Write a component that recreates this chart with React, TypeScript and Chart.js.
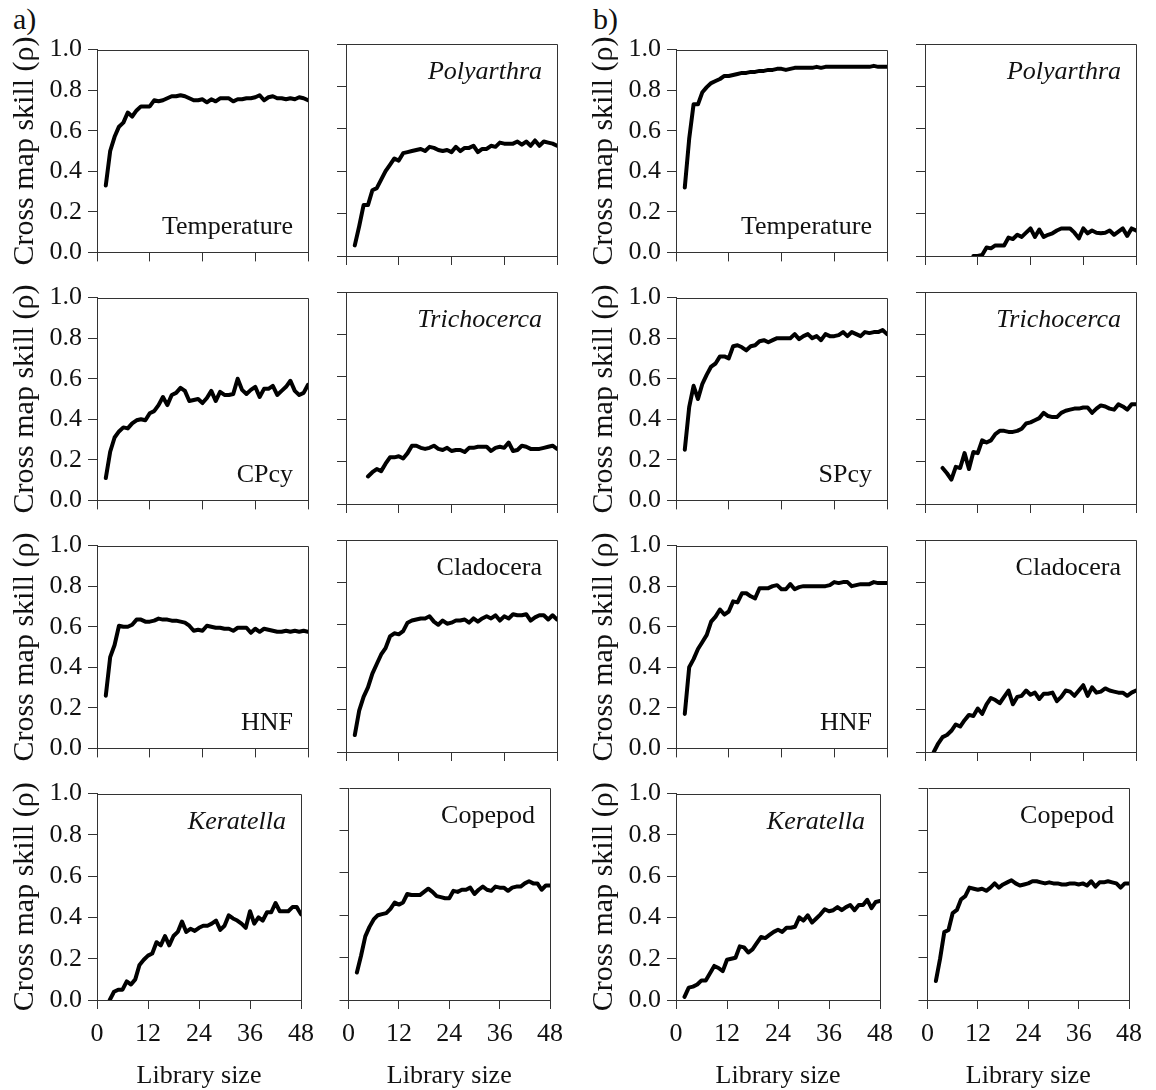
import React, { useEffect, useRef } from 'react';
import { Chart, registerables } from 'chart.js';

Chart.register(...registerables);

// ---------- data ----------
const LIBRARY_SIZE = [2, 3, 4, 5, 6, 7, 8, 9, 10, 11, 12, 13, 14, 15, 16, 17, 18, 19, 20, 21, 22, 23, 24, 25, 26, 27, 28, 29, 30, 31, 32, 33, 34, 35, 36, 37, 38, 39, 40, 41, 42, 43, 44, 45, 46, 47, 48];
const X_TICKS = [0, 12, 24, 36, 48];
const Y_TICKS = [0, 0.2, 0.4, 0.6, 0.8, 1.0];

const A_TEMPERATURE = [0.33, 0.5, 0.57, 0.62, 0.64, 0.69, 0.67, 0.7, 0.72, 0.72, 0.72, 0.75, 0.745, 0.75, 0.76, 0.77, 0.77, 0.775, 0.77, 0.76, 0.75, 0.75, 0.755, 0.74, 0.755, 0.745, 0.76, 0.76, 0.76, 0.745, 0.755, 0.755, 0.76, 0.76, 0.765, 0.775, 0.75, 0.765, 0.77, 0.76, 0.76, 0.755, 0.76, 0.755, 0.765, 0.76, 0.75];
const A_POLYARTHRA = [0.05, 0.14, 0.24, 0.24, 0.31, 0.32, 0.36, 0.4, 0.43, 0.46, 0.45, 0.485, 0.49, 0.495, 0.5, 0.505, 0.495, 0.515, 0.51, 0.5, 0.495, 0.5, 0.49, 0.515, 0.495, 0.51, 0.51, 0.52, 0.49, 0.505, 0.505, 0.52, 0.515, 0.535, 0.53, 0.53, 0.53, 0.54, 0.525, 0.54, 0.52, 0.545, 0.52, 0.54, 0.535, 0.53, 0.52];
const B_TEMPERATURE = [0.32, 0.56, 0.73, 0.73, 0.79, 0.815, 0.835, 0.845, 0.855, 0.87, 0.87, 0.875, 0.88, 0.885, 0.885, 0.89, 0.89, 0.895, 0.895, 0.9, 0.9, 0.905, 0.905, 0.9, 0.905, 0.91, 0.91, 0.91, 0.91, 0.91, 0.915, 0.91, 0.915, 0.915, 0.915, 0.915, 0.915, 0.915, 0.915, 0.915, 0.915, 0.915, 0.915, 0.92, 0.915, 0.915, 0.915];
const B_POLYARTHRA = [null, null, null, null, null, null, null, null, null, 0.0, 0.0, 0.005, 0.04, 0.036, 0.05, 0.05, 0.05, 0.087, 0.08, 0.1, 0.09, 0.11, 0.13, 0.09, 0.125, 0.09, 0.1, 0.107, 0.12, 0.13, 0.13, 0.13, 0.11, 0.083, 0.13, 0.107, 0.12, 0.11, 0.107, 0.11, 0.12, 0.1, 0.115, 0.13, 0.095, 0.13, 0.12];

const A_CPCY = [0.11, 0.24, 0.31, 0.34, 0.36, 0.355, 0.38, 0.395, 0.4, 0.395, 0.43, 0.44, 0.47, 0.51, 0.47, 0.52, 0.53, 0.555, 0.54, 0.49, 0.495, 0.5, 0.48, 0.505, 0.54, 0.49, 0.535, 0.52, 0.52, 0.525, 0.6, 0.545, 0.525, 0.545, 0.56, 0.51, 0.55, 0.55, 0.565, 0.52, 0.54, 0.56, 0.59, 0.54, 0.52, 0.53, 0.57];
const A_TRICHOCERCA = [null, null, null, 0.13, 0.15, 0.165, 0.155, 0.19, 0.22, 0.22, 0.225, 0.215, 0.24, 0.275, 0.275, 0.265, 0.26, 0.265, 0.275, 0.26, 0.255, 0.265, 0.25, 0.255, 0.255, 0.245, 0.265, 0.265, 0.27, 0.27, 0.27, 0.25, 0.265, 0.27, 0.265, 0.29, 0.25, 0.255, 0.275, 0.27, 0.26, 0.26, 0.26, 0.265, 0.27, 0.275, 0.26];
const B_SPCY = [0.25, 0.46, 0.565, 0.5, 0.575, 0.62, 0.66, 0.675, 0.71, 0.71, 0.7, 0.76, 0.765, 0.755, 0.74, 0.76, 0.765, 0.785, 0.79, 0.78, 0.79, 0.8, 0.8, 0.8, 0.8, 0.82, 0.795, 0.81, 0.82, 0.8, 0.81, 0.79, 0.82, 0.81, 0.81, 0.815, 0.83, 0.81, 0.83, 0.82, 0.81, 0.83, 0.825, 0.83, 0.83, 0.84, 0.82];
const B_TRICHOCERCA = [null, null, 0.17, 0.145, 0.115, 0.175, 0.17, 0.24, 0.165, 0.245, 0.24, 0.3, 0.29, 0.3, 0.33, 0.345, 0.345, 0.34, 0.34, 0.345, 0.355, 0.38, 0.385, 0.395, 0.405, 0.43, 0.415, 0.41, 0.41, 0.43, 0.44, 0.445, 0.45, 0.45, 0.455, 0.455, 0.43, 0.45, 0.465, 0.46, 0.45, 0.445, 0.47, 0.46, 0.445, 0.47, 0.47];

const A_HNF = [0.26, 0.45, 0.51, 0.605, 0.6, 0.6, 0.61, 0.635, 0.635, 0.625, 0.625, 0.63, 0.64, 0.635, 0.635, 0.63, 0.63, 0.625, 0.62, 0.605, 0.58, 0.585, 0.58, 0.605, 0.6, 0.595, 0.595, 0.59, 0.59, 0.58, 0.595, 0.595, 0.595, 0.57, 0.59, 0.575, 0.59, 0.585, 0.58, 0.575, 0.575, 0.58, 0.575, 0.58, 0.575, 0.58, 0.575];
const A_CLADOCERA = [0.08, 0.195, 0.26, 0.305, 0.37, 0.415, 0.46, 0.49, 0.545, 0.56, 0.555, 0.57, 0.61, 0.62, 0.625, 0.63, 0.63, 0.64, 0.615, 0.6, 0.62, 0.605, 0.61, 0.62, 0.62, 0.625, 0.61, 0.63, 0.615, 0.63, 0.64, 0.63, 0.645, 0.62, 0.64, 0.63, 0.65, 0.645, 0.645, 0.65, 0.62, 0.635, 0.645, 0.645, 0.625, 0.645, 0.625];
const B_HNF = [0.17, 0.4, 0.44, 0.49, 0.525, 0.56, 0.625, 0.65, 0.685, 0.66, 0.675, 0.725, 0.72, 0.765, 0.765, 0.75, 0.74, 0.79, 0.79, 0.79, 0.8, 0.805, 0.785, 0.785, 0.81, 0.785, 0.795, 0.8, 0.8, 0.8, 0.8, 0.8, 0.8, 0.805, 0.82, 0.815, 0.82, 0.82, 0.8, 0.805, 0.81, 0.81, 0.81, 0.82, 0.815, 0.815, 0.815];
const B_CLADOCERA = [0.0, 0.04, 0.07, 0.08, 0.1, 0.13, 0.12, 0.15, 0.175, 0.17, 0.205, 0.18, 0.225, 0.255, 0.245, 0.23, 0.26, 0.29, 0.225, 0.26, 0.265, 0.29, 0.27, 0.28, 0.25, 0.275, 0.275, 0.28, 0.24, 0.26, 0.29, 0.285, 0.265, 0.29, 0.315, 0.265, 0.305, 0.28, 0.285, 0.3, 0.29, 0.285, 0.28, 0.28, 0.265, 0.28, 0.29];

const A_KERATELLA = [null, 0.0, 0.04, 0.05, 0.05, 0.09, 0.075, 0.1, 0.17, 0.195, 0.215, 0.225, 0.28, 0.265, 0.31, 0.265, 0.31, 0.33, 0.38, 0.33, 0.345, 0.335, 0.35, 0.36, 0.36, 0.37, 0.385, 0.34, 0.36, 0.41, 0.395, 0.385, 0.37, 0.35, 0.43, 0.37, 0.4, 0.385, 0.425, 0.425, 0.47, 0.43, 0.43, 0.43, 0.45, 0.45, 0.415];
const A_COPEPOD = [0.13, 0.21, 0.3, 0.345, 0.38, 0.4, 0.405, 0.41, 0.43, 0.46, 0.45, 0.46, 0.5, 0.495, 0.495, 0.495, 0.51, 0.525, 0.51, 0.49, 0.485, 0.48, 0.48, 0.515, 0.51, 0.52, 0.52, 0.53, 0.5, 0.52, 0.535, 0.52, 0.515, 0.535, 0.53, 0.53, 0.515, 0.53, 0.535, 0.535, 0.55, 0.56, 0.55, 0.55, 0.52, 0.54, 0.54];
const B_KERATELLA = [0.015, 0.06, 0.065, 0.075, 0.095, 0.095, 0.13, 0.165, 0.155, 0.14, 0.195, 0.2, 0.205, 0.26, 0.255, 0.23, 0.245, 0.275, 0.305, 0.3, 0.315, 0.33, 0.34, 0.33, 0.35, 0.35, 0.355, 0.4, 0.385, 0.41, 0.375, 0.395, 0.415, 0.44, 0.43, 0.435, 0.45, 0.435, 0.45, 0.46, 0.435, 0.46, 0.46, 0.485, 0.445, 0.475, 0.48];
const B_COPEPOD = [0.09, 0.195, 0.32, 0.33, 0.41, 0.425, 0.475, 0.49, 0.53, 0.525, 0.52, 0.525, 0.515, 0.53, 0.55, 0.53, 0.545, 0.555, 0.565, 0.55, 0.54, 0.545, 0.55, 0.56, 0.56, 0.555, 0.55, 0.555, 0.55, 0.55, 0.545, 0.545, 0.55, 0.55, 0.545, 0.55, 0.54, 0.56, 0.535, 0.555, 0.555, 0.56, 0.555, 0.55, 0.53, 0.55, 0.55];

// ---------- layout & style ----------
const SERIF = "'Liberation Serif', 'Times New Roman', Times, serif";
const AXIS_COLOR = '#333333';
const TEXT_COLOR = '#111111';
const COL_LEFT = [97, 346, 676, 925];
const ROW_TOP = [44, 292, 540, 788];
const PLOT_W = 211;
const PLOT_H = 212;
const PAD_T = 16;
const PAD_R = 16;

Chart.defaults.font.family = SERIF;
Chart.defaults.color = TEXT_COLOR;

type PanelDef = { key: string; col: number; row: number; values: (number | null)[]; label: string; italic: boolean; pos: 'top' | 'bottom' };

const PANELS: PanelDef[] = [
  { key: 'a-temp', col: 0, row: 0, values: A_TEMPERATURE, label: 'Temperature', italic: false, pos: 'bottom' },
  { key: 'a-poly', col: 1, row: 0, values: A_POLYARTHRA, label: 'Polyarthra', italic: true, pos: 'top' },
  { key: 'b-temp', col: 2, row: 0, values: B_TEMPERATURE, label: 'Temperature', italic: false, pos: 'bottom' },
  { key: 'b-poly', col: 3, row: 0, values: B_POLYARTHRA, label: 'Polyarthra', italic: true, pos: 'top' },
  { key: 'a-cpcy', col: 0, row: 1, values: A_CPCY, label: 'CPcy', italic: false, pos: 'bottom' },
  { key: 'a-tri', col: 1, row: 1, values: A_TRICHOCERCA, label: 'Trichocerca', italic: true, pos: 'top' },
  { key: 'b-spcy', col: 2, row: 1, values: B_SPCY, label: 'SPcy', italic: false, pos: 'bottom' },
  { key: 'b-tri', col: 3, row: 1, values: B_TRICHOCERCA, label: 'Trichocerca', italic: true, pos: 'top' },
  { key: 'a-hnf', col: 0, row: 2, values: A_HNF, label: 'HNF', italic: false, pos: 'bottom' },
  { key: 'a-clad', col: 1, row: 2, values: A_CLADOCERA, label: 'Cladocera', italic: false, pos: 'top' },
  { key: 'b-hnf', col: 2, row: 2, values: B_HNF, label: 'HNF', italic: false, pos: 'bottom' },
  { key: 'b-clad', col: 3, row: 2, values: B_CLADOCERA, label: 'Cladocera', italic: false, pos: 'top' },
  { key: 'a-ker', col: 0, row: 3, values: A_KERATELLA, label: 'Keratella', italic: true, pos: 'top' },
  { key: 'a-cope', col: 1, row: 3, values: A_COPEPOD, label: 'Copepod', italic: false, pos: 'top' },
  { key: 'b-ker', col: 2, row: 3, values: B_KERATELLA, label: 'Keratella', italic: true, pos: 'top' },
  { key: 'b-cope', col: 3, row: 3, values: B_COPEPOD, label: 'Copepod', italic: false, pos: 'top' },
];

const boxPlugin = {
  id: 'panelBox',
  beforeDatasetsDraw(chart: any) {
    const { ctx, chartArea } = chart;
    const l = Math.round(chartArea.left) + 0.5;
    const t = Math.round(chartArea.top) + 0.5;
    const r = Math.round(chartArea.right) + 0.5;
    const b = Math.round(chartArea.bottom) + 0.5;
    ctx.save();
    ctx.strokeStyle = AXIS_COLOR;
    ctx.lineWidth = 1;
    ctx.beginPath();
    ctx.moveTo(l, t);
    ctx.lineTo(r, t);
    ctx.lineTo(r, b);
    ctx.stroke();
    ctx.restore();
  },
};

const labelPlugin = {
  id: 'panelLabel',
  afterDatasetsDraw(chart: any, _args: any, opts: any) {
    if (!opts || !opts.text) return;
    const { ctx, chartArea } = chart;
    ctx.save();
    ctx.font = `${opts.italic ? 'italic ' : ''}26px ${SERIF}`;
    ctx.fillStyle = TEXT_COLOR;
    ctx.textAlign = 'right';
    ctx.textBaseline = 'alphabetic';
    const y = opts.pos === 'top' ? chartArea.top + 35 : chartArea.bottom - 18;
    ctx.fillText(opts.text, chartArea.right - 15, y);
    ctx.restore();
  },
};

function Panel({ p }: { p: PanelDef }) {
  const ref = useRef<HTMLCanvasElement>(null);
  const showY = p.col === 0 || p.col === 2;
  const showX = p.row === 3;
  const yw = showY ? 90 : 14;
  const xh = showX ? 90 : 18;
  const W = yw + PLOT_W + PAD_R;
  const H = PAD_T + PLOT_H + xh;
  const left = COL_LEFT[p.col] - yw;
  const top = ROW_TOP[p.row] - PAD_T;

  useEffect(() => {
    if (!ref.current) return;
    const chart = new Chart(ref.current, {
      type: 'line',
      data: {
        datasets: [
          {
            data: LIBRARY_SIZE.map((x, i) => ({ x, y: p.values[i] })) as any,
            borderColor: '#000000',
            borderWidth: 4,
            pointRadius: 0,
            tension: 0,
            borderJoinStyle: 'round',
            borderCapStyle: 'round',
            fill: false,
          },
        ],
      },
      options: {
        responsive: false,
        animation: false,
        devicePixelRatio: 1,
        font: { family: SERIF },
        layout: { padding: { top: PAD_T, right: PAD_R, left: 0, bottom: 0 } },
        plugins: {
          legend: { display: false },
          tooltip: { enabled: false },
          panelLabel: { text: p.label, italic: p.italic, pos: p.pos },
        } as any,
        scales: {
          x: {
            type: 'linear',
            min: 0,
            max: 48,
            afterBuildTicks: (s: any) => {
              s.ticks = X_TICKS.map((v) => ({ value: v }));
            },
            afterFit: (s: any) => {
              s.height = xh;
            },
            grid: { drawOnChartArea: false, drawTicks: true, tickLength: 9, color: AXIS_COLOR, lineWidth: 1 },
            border: { display: true, color: AXIS_COLOR, width: 1 },
            ticks: {
              display: showX,
              padding: 10,
              font: { family: SERIF, size: 26 },
              color: TEXT_COLOR,
              maxRotation: 0,
              autoSkip: false,
              callback: (v: any) => String(v),
            },
            title: { display: showX, text: 'Library size', font: { family: SERIF, size: 26 }, color: TEXT_COLOR, padding: { top: 0, bottom: -2 } },
          },
          y: {
            type: 'linear',
            min: 0,
            max: 1,
            afterBuildTicks: (s: any) => {
              s.ticks = Y_TICKS.map((v) => ({ value: v }));
            },
            afterFit: (s: any) => {
              s.width = yw;
            },
            grid: { drawOnChartArea: false, drawTicks: true, tickLength: 9, color: AXIS_COLOR, lineWidth: 1 },
            border: { display: true, color: AXIS_COLOR, width: 1 },
            ticks: {
              display: showY,
              padding: 6,
              font: { family: SERIF, size: 26 },
              color: TEXT_COLOR,
              autoSkip: false,
              callback: (v: any) => Number(v).toFixed(1),
            },
            title: { display: showY, text: 'Cross map skill (ρ)', font: { family: SERIF, size: 30 }, color: TEXT_COLOR, padding: { top: 0, bottom: 0 } },
          },
        },
      } as any,
      plugins: [boxPlugin, labelPlugin],
    });
    return () => chart.destroy();
  }, []);

  return (
    <canvas
      ref={ref}
      width={W}
      height={H}
      style={{ position: 'absolute', left, top, width: W, height: H }}
    />
  );
}

export default function App() {
  const groupStyle: React.CSSProperties = {
    position: 'absolute',
    top: 4,
    fontFamily: SERIF,
    fontSize: 30,
    lineHeight: '30px',
    color: TEXT_COLOR,
  };
  return (
    <div style={{ position: 'absolute', left: 0, top: 0, width: 1156, height: 1090, background: '#ffffff', overflow: 'hidden' }}>
      <div style={{ ...groupStyle, left: 13 }}>a)</div>
      <div style={{ ...groupStyle, left: 593 }}>b)</div>
      {PANELS.map((p) => (
        <Panel key={p.key} p={p} />
      ))}
    </div>
  );
}
